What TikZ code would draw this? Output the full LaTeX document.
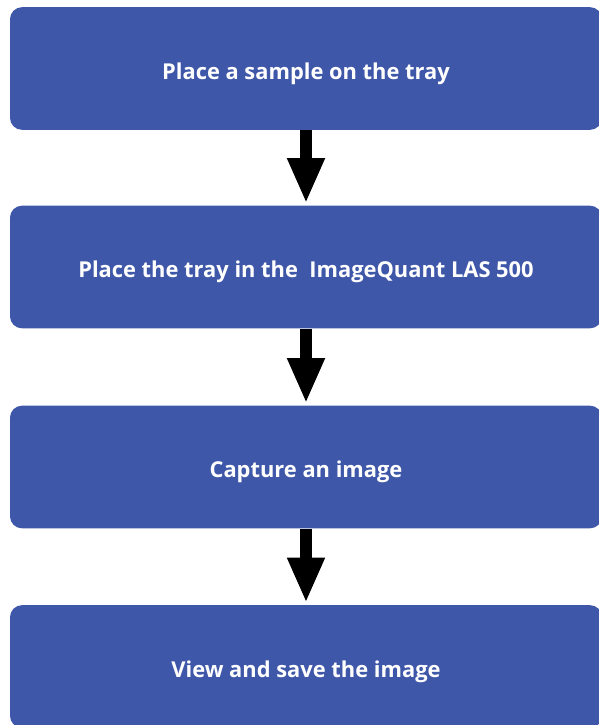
\documentclass[tikz,border=0pt]{standalone}
\usepackage{fontspec}
\setmainfont{Open Sans}
\usetikzlibrary{arrows.meta}
\definecolor{stepblue}{HTML}{3F57A9}
\begin{document}
\begin{tikzpicture}[x=0.75pt,y=-0.75pt,line join=round,
  stepbox/.style={fill=stepblue,rounded corners=9pt,minimum width=444pt,minimum height=92pt,
    text=white,font=\bfseries\fontsize{16.4}{19}\selectfont,inner sep=0pt,
    text height=16pt,text depth=0pt},
  flow/.style={line width=9pt,-{Triangle[width=26pt,length=34pt]},shorten >=1.5pt}]
  \useasboundingbox (0,0) rectangle (599,725);
  \clip (0,0) rectangle (599,725);
  \node[stepbox] (s1) at (306,68.5) {Place a sample on the tray};
  \node[stepbox] (s2) at (306,267) {Place the tray in the\ \ ImageQuant LAS 500};
  \node[stepbox] (s3) at (306,467) {Capture an image};
  \node[stepbox] (s4) at (306,666.5) {View and save the image};
  \foreach \a/\b in {s1/s2, s2/s3, s3/s4}
    \draw[flow] (\a.south) -- (\b.north);
\end{tikzpicture}
\end{document}
